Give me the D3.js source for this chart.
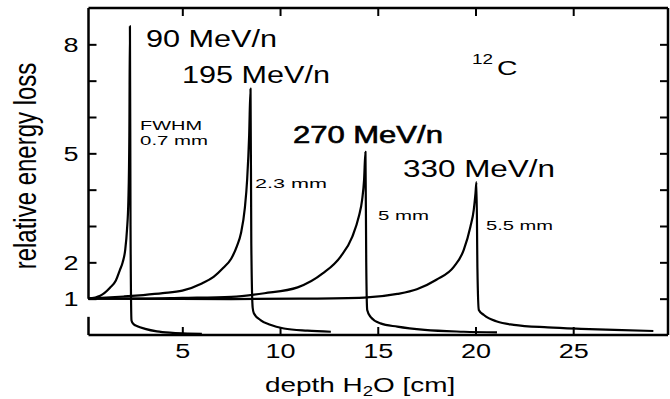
<!DOCTYPE html>
<html>
<head>
<meta charset="utf-8">
<script src="https://cdn.jsdelivr.net/npm/d3@7"></script>
<style>
  html, body { margin: 0; padding: 0; background: #fff; }
  svg { display: block; }
  text { font-family: "Liberation Sans", Arial, sans-serif; fill: #000; }
</style>
</head>
<body>
<svg id="chart" width="670" height="399"></svg>
<script>
// ---- data ----
const xTicks = [5, 10, 15, 20, 25];
const yTicks = [1, 2, 3, 4, 5, 6, 7, 8];
const yLabelled = [1, 2, 5, 8];

const depth90  = [0.2, 0.8, 1.3, 1.6, 1.8, 1.95, 2.08, 2.17, 2.24, 2.29, 2.32, 2.35, 2.4, 2.5, 2.7, 3.1, 3.7, 4.5, 5.3, 6.0];
const loss90   = [1.0, 1.08, 1.3, 1.5, 1.78, 2.0, 2.35, 2.9, 3.7, 5.5, 8.5, 3.0, 0.4, 0.3, 0.24, 0.17, 0.1, 0.06, 0.04, 0.03];

const depth195 = [0.2, 2, 3, 4, 5, 6, 6.6, 7.1, 7.5, 7.8, 8.0, 8.2, 8.32, 8.42, 8.49, 8.53, 8.6, 8.66, 9.0, 9.5, 10.2, 11.4, 12.6];
const loss195  = [1.0, 1.06, 1.1, 1.15, 1.22, 1.42, 1.6, 1.85, 2.1, 2.45, 2.8, 3.5, 4.3, 5.5, 6.78, 2.5, 0.75, 0.6, 0.41, 0.28, 0.18, 0.12, 0.09];

const depth270 = [0.2, 3, 5, 7.5, 9.2, 10.9, 12.2, 13.1, 13.7, 14.03, 14.2, 14.3, 14.37, 14.41, 14.46, 14.63, 15.14, 16.0, 17.4, 19.4, 21.1];
const loss270  = [1.0, 1.0, 1.02, 1.05, 1.15, 1.31, 1.7, 2.16, 2.71, 3.26, 3.72, 4.27, 5.04, 2.0, 0.69, 0.5, 0.32, 0.23, 0.14, 0.09, 0.07];

const depth330 = [0.2, 7.5, 11, 14.3, 16.0, 17.0, 18.0, 18.9, 19.4, 19.74, 19.91, 20.0, 20.05, 20.1, 20.17, 20.43, 21.1, 21.96, 23.7, 25.4, 27.1, 29.1];
const loss330  = [1.0, 0.99, 1.0, 1.03, 1.13, 1.26, 1.52, 1.88, 2.34, 2.98, 3.44, 3.9, 4.21, 1.8, 0.69, 0.55, 0.37, 0.28, 0.21, 0.17, 0.14, 0.11];

const energyLabels = ["90 MeV/n", "195 MeV/n", "270 MeV/n", "330 MeV/n"];
const fwhmLabels = ["FWHM", "0.7 mm", "2.3 mm", "5 mm", "5.5 mm"];

// ---- drawing ----
const svg = d3.select("#chart");
const S = 1.35; // horizontal stretch of the scanned figure

const x = d3.scaleLinear().domain([0.2, 29.85]).range([88.5, 668]);
const y = d3.scaleLinear().domain([0, 9]).range([335, 8]);

function stretch(sel, width) {
  sel.each(function () {
    const w = width != null ? width : this.getComputedTextLength() * S;
    d3.select(this).attr("textLength", w).attr("lengthAdjust", "spacingAndGlyphs");
  });
}

// axes with inward ticks
const gB = svg.append("g").attr("transform", `translate(0,${y(0)})`)
  .call(d3.axisBottom(x).tickValues(xTicks).tickSizeInner(-8).tickSizeOuter(0).tickPadding(9));
const gT = svg.append("g").attr("transform", `translate(0,${y(9)})`)
  .call(d3.axisTop(x).tickValues(xTicks).tickSizeInner(-8).tickSizeOuter(0).tickFormat(""));
const gL = svg.append("g").attr("transform", `translate(${x(0.2)},0)`)
  .call(d3.axisLeft(y).tickValues(yTicks).tickSizeInner(-8).tickSizeOuter(0).tickPadding(10)
    .tickFormat(d => yLabelled.includes(d) ? d : ""));
const gR = svg.append("g").attr("transform", `translate(${x(29.85)},0)`)
  .call(d3.axisRight(y).tickValues(yTicks).tickSizeInner(-8).tickSizeOuter(0).tickFormat(""));

[gB, gT, gL, gR].forEach(g => {
  g.select(".domain").remove();
  g.selectAll(".tick line").attr("stroke", "#000").attr("stroke-width", 2);
  g.selectAll(".tick text").attr("font-size", 20).attr("font-family", "Liberation Sans, Arial, sans-serif").attr("fill", "#000");
});
gB.selectAll(".tick text").call(stretch);
gL.selectAll(".tick text").attr("dy", "0.36em").call(stretch);

// frame (left axis broken below 1)
const frame = svg.append("g").attr("stroke", "#000").attr("stroke-width", 2.5).attr("fill", "none");
frame.append("line").attr("x1", x(0.2)).attr("x2", x(29.85)).attr("y1", y(9)).attr("y2", y(9));
frame.append("line").attr("x1", x(29.85)).attr("x2", x(29.85)).attr("y1", y(9)).attr("y2", y(0));
frame.append("line").attr("x1", x(0.2)).attr("x2", x(29.85)).attr("y1", y(0)).attr("y2", y(0));
frame.append("line").attr("x1", x(0.2)).attr("x2", x(0.2)).attr("y1", y(9)).attr("y2", y(1));
frame.append("line").attr("x1", x(0.2)).attr("x2", x(0.2)).attr("y1", y(0.5)).attr("y2", y(0));

// curves
const series = [[depth90, loss90], [depth195, loss195], [depth270, loss270], [depth330, loss330]];
const line = d3.line().x(d => x(d[0])).y(d => y(d[1])).curve(d3.curveMonotoneX);
svg.append("g").selectAll("path").data(series).join("path")
  .attr("d", s => line(s[0].map((d, i) => [d, s[1][i]])))
  .attr("fill", "none").attr("stroke", "#000").attr("stroke-width", 2.2)
  .attr("stroke-linejoin", "round");

// energy labels
const ePos = [[3.14, 7.93, 131], [4.98, 6.94, 148], [10.66, 5.28, 150], [16.29, 4.35, 152]];
energyLabels.forEach((t, i) => {
  const el = svg.append("text").attr("x", x(ePos[i][0])).attr("y", y(ePos[i][1]))
    .attr("font-size", 23).text(t).call(stretch, ePos[i][2]);
  if (i === 2) el.attr("stroke", "#000").attr("stroke-width", 0.6);
});

// FWHM labels
const fPos = [[2.84, 5.64, 62], [2.84, 5.23, 68], [8.72, 4.05, 72], [15.01, 3.17, 51], [20.54, 2.89, 67]];
fwhmLabels.forEach((t, i) => {
  svg.append("text").attr("x", x(fPos[i][0])).attr("y", y(fPos[i][1]))
    .attr("font-size", 13).text(t).call(stretch, fPos[i][2]);
});

// 12C
svg.append("text").attr("x", x(19.82)).attr("y", y(7.47)).attr("font-size", 14).text("12").call(stretch);
svg.append("text").attr("x", x(21.1)).attr("y", y(7.16)).attr("font-size", 21).text("C").call(stretch);

// axis titles
const xt = svg.append("text").attr("transform", "translate(265,392) scale(1.33,1)")
  .attr("font-size", 21);
xt.append("tspan").text("depth H");
xt.append("tspan").attr("font-size", 14).attr("dy", 4).text("2");
xt.append("tspan").attr("dy", -4).text("O [cm]");

svg.append("text").attr("transform", "translate(36,166) scale(1.33,1) rotate(-90)")
  .attr("text-anchor", "middle").attr("font-size", 24).text("relative energy loss");
</script>
</body>
</html>
